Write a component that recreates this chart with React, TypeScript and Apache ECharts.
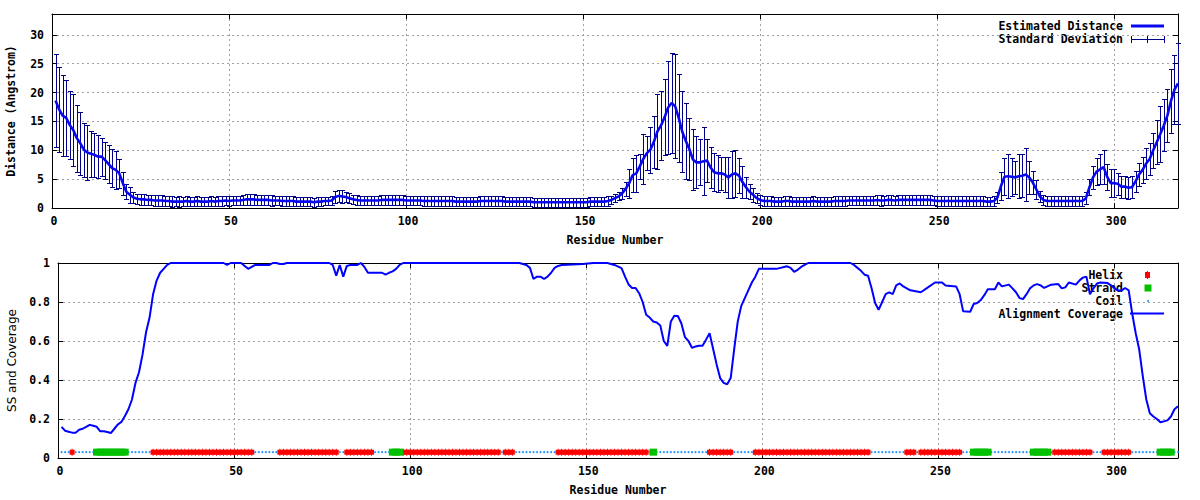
import React, { useEffect, useRef } from "react";
import * as echarts from "echarts";

// ---------- data ----------
// Estimated distance (Angstrom) per residue 1..318
const meanDistance: number[] = [
  18.6, 17.1, 16.0, 15.6, 14.4, 13.5, 12.1, 11.2, 10.1, 9.6,
  9.4, 9.2, 8.9, 8.9, 8.3, 7.6, 6.9, 6.6, 6.0, 4.3,
  2.8, 2.3, 1.8, 1.6, 1.5, 1.5, 1.4, 1.4, 1.3, 1.3,
  1.3, 1.2, 1.2, 1.1, 1.1, 1.1, 1.1, 1.2, 1.1, 1.1,
  1.2, 1.1, 1.1, 1.1, 1.2, 1.1, 1.2, 1.2, 1.3, 1.2,
  1.3, 1.3, 1.3, 1.4, 1.5, 1.5, 1.5, 1.4, 1.4, 1.4,
  1.4, 1.3, 1.3, 1.3, 1.2, 1.2, 1.2, 1.2, 1.1, 1.1,
  1.1, 1.1, 1.1, 1.0, 1.1, 1.1, 1.2, 1.2, 1.3, 1.9,
  2.1, 2.0, 1.9, 1.7, 1.5, 1.4, 1.3, 1.3, 1.3, 1.3,
  1.3, 1.3, 1.4, 1.4, 1.4, 1.4, 1.4, 1.4, 1.4, 1.3,
  1.3, 1.3, 1.3, 1.3, 1.2, 1.2, 1.2, 1.2, 1.2, 1.2,
  1.2, 1.2, 1.2, 1.1, 1.1, 1.1, 1.1, 1.1, 1.1, 1.1,
  1.2, 1.2, 1.2, 1.2, 1.2, 1.2, 1.2, 1.1, 1.1, 1.1,
  1.1, 1.1, 1.1, 1.1, 1.1, 1.0, 1.0, 1.0, 1.0, 1.0,
  1.0, 1.0, 1.0, 1.0, 1.0, 1.0, 1.0, 1.0, 1.0, 1.0,
  1.0, 1.1, 1.1, 1.1, 1.1, 1.1, 1.2, 1.4, 1.7, 2.0,
  2.5, 3.3, 4.3, 5.7, 6.0, 7.2, 8.5, 9.5, 10.1, 11.5,
  13.3, 14.3, 15.7, 17.4, 18.2, 17.6, 15.6, 13.2, 11.6, 10.2,
  8.4, 7.9, 7.9, 8.1, 8.2, 7.0, 6.2, 6.0, 6.0, 5.8,
  5.3, 5.8, 6.0, 5.6, 4.5, 3.6, 2.8, 2.3, 1.7, 1.4,
  1.2, 1.2, 1.2, 1.1, 1.1, 1.1, 1.2, 1.2, 1.1, 1.1,
  1.1, 1.1, 1.1, 1.1, 1.2, 1.1, 1.1, 1.1, 1.1, 1.1,
  1.2, 1.2, 1.2, 1.2, 1.3, 1.3, 1.3, 1.3, 1.3, 1.3,
  1.3, 1.3, 1.4, 1.3, 1.3, 1.4, 1.4, 1.3, 1.4, 1.4,
  1.4, 1.4, 1.4, 1.4, 1.4, 1.4, 1.4, 1.4, 1.3, 1.2,
  1.2, 1.2, 1.2, 1.2, 1.2, 1.2, 1.2, 1.2, 1.2, 1.2,
  1.2, 1.2, 1.2, 1.1, 1.1, 1.2, 1.8, 3.8, 5.4, 5.5,
  5.4, 5.3, 5.5, 5.6, 5.8, 5.3, 4.4, 3.2, 2.0, 1.4,
  1.2, 1.2, 1.2, 1.2, 1.2, 1.2, 1.2, 1.2, 1.2, 1.2,
  1.2, 1.7, 3.6, 5.3, 6.3, 6.7, 7.1, 5.4, 4.3, 4.3,
  4.2, 3.7, 3.7, 3.5, 3.6, 4.6, 5.8, 6.6, 7.7, 8.5,
  10.0, 11.4, 12.8, 14.3, 16.0, 18.5, 20.5, 21.6,
];

// Standard deviation per residue 1..318
const stdDeviation: number[] = [
  8.0, 7.4, 7.0, 6.6, 5.9, 6.2, 5.8, 5.5, 4.7, 4.8,
  4.0, 3.8, 3.7, 3.3, 3.2, 3.3, 3.3, 3.3, 2.5, 2.0,
  1.3, 1.4, 1.0, 0.9, 1.0, 1.0, 0.9, 0.9, 1.0, 0.9,
  0.9, 0.9, 0.9, 0.9, 0.8, 0.9, 0.8, 0.8, 0.8, 0.8,
  0.8, 0.8, 0.8, 0.8, 0.8, 0.8, 0.8, 0.9, 0.8, 0.8,
  0.8, 0.8, 0.8, 0.8, 0.9, 0.9, 0.9, 0.8, 0.8, 0.8,
  0.8, 0.9, 0.8, 0.8, 0.8, 0.8, 0.8, 0.8, 0.8, 0.8,
  0.8, 0.8, 0.8, 0.8, 0.8, 0.8, 0.7, 0.7, 0.7, 1.1,
  1.1, 1.1, 0.9, 0.9, 0.8, 0.8, 0.8, 0.8, 0.8, 0.8,
  0.8, 0.8, 0.8, 0.8, 0.8, 0.8, 0.9, 0.9, 0.9, 0.8,
  0.8, 0.8, 0.8, 0.8, 0.8, 0.8, 0.8, 0.8, 0.8, 0.8,
  0.8, 0.8, 0.8, 0.8, 0.8, 0.8, 0.8, 0.8, 0.8, 0.8,
  0.8, 0.8, 0.8, 0.8, 0.8, 0.8, 0.8, 0.8, 0.8, 0.8,
  0.8, 0.8, 0.8, 0.8, 0.8, 0.8, 0.8, 0.8, 0.8, 0.8,
  0.8, 0.8, 0.8, 0.8, 0.8, 0.8, 0.8, 0.8, 0.8, 0.8,
  0.8, 0.8, 0.8, 0.8, 0.8, 0.8, 0.8, 0.7, 0.7, 0.7,
  0.9, 1.2, 2.5, 2.9, 3.2, 2.2, 4.4, 3.0, 4.0, 4.5,
  6.5, 6.0, 6.6, 8.0, 8.6, 9.0, 7.6, 7.0, 6.6, 5.4,
  5.3, 4.5, 4.0, 5.9, 3.7, 3.5, 3.3, 3.2, 2.9, 3.1,
  3.6, 4.0, 4.1, 3.0, 2.7, 1.8, 1.3, 1.2, 0.9, 0.8,
  0.8, 0.8, 0.8, 0.8, 0.8, 0.8, 0.8, 0.8, 0.8, 0.8,
  0.8, 0.8, 0.8, 0.8, 0.8, 0.8, 0.8, 0.8, 0.8, 0.8,
  0.8, 0.8, 0.8, 0.8, 0.8, 0.8, 0.8, 0.8, 0.8, 0.8,
  0.8, 0.8, 0.8, 0.9, 0.8, 0.8, 0.8, 0.8, 0.8, 0.8,
  0.8, 0.8, 0.8, 0.8, 0.8, 0.8, 0.8, 0.8, 0.8, 0.8,
  0.8, 0.8, 0.8, 0.8, 0.8, 0.8, 0.8, 0.8, 0.8, 0.8,
  0.8, 0.8, 0.8, 0.8, 0.8, 0.8, 1.0, 2.5, 3.2, 3.8,
  3.3, 2.9, 3.8, 3.7, 4.6, 2.9, 2.0, 1.6, 1.0, 0.9,
  0.9, 0.9, 0.9, 0.9, 0.9, 0.9, 0.9, 0.9, 0.9, 0.9,
  0.9, 1.0, 1.4, 2.0, 2.3, 2.6, 2.9, 2.3, 2.4, 2.4,
  1.9, 1.9, 1.9, 1.9, 1.9, 1.8, 2.0, 2.3, 2.7, 2.8,
  3.0, 3.8, 4.8, 4.5, 4.6, 5.5, 6.0, 7.0,
];

// Alignment coverage readings [residue, coverage]
const alignmentCoverage: [number, number][] = [
  [1, 0.16], [2, 0.14], [3, 0.135], [4, 0.13], [5, 0.13], [6, 0.145], [7, 0.15], [8, 0.16],
  [9, 0.17], [10, 0.165], [11, 0.16], [12, 0.137], [13, 0.137], [14, 0.133], [15, 0.128],
  [16, 0.15], [17, 0.172], [18, 0.185], [19, 0.215], [20, 0.25], [21, 0.3], [22, 0.385],
  [23, 0.44], [24, 0.53], [25, 0.645], [26, 0.72], [27, 0.84], [28, 0.91], [29, 0.95],
  [30, 0.97], [31, 0.99], [32, 1.0], [47, 1.0], [48, 0.99], [49, 1.0], [52, 1.0], [53, 0.985],
  [54, 0.97], [55, 0.98], [56, 0.99], [60, 0.99], [61, 1.0], [62, 1.0], [63, 0.995], [64, 0.995],
  [65, 1.0], [77, 1.0], [78, 0.99], [79, 0.935], [80, 0.99], [81, 0.93], [82, 0.985], [83, 0.99],
  [85, 0.99], [86, 1.0], [87, 0.98], [88, 0.95], [92, 0.95], [93, 0.94], [94, 0.95], [95, 0.957],
  [96, 0.97], [97, 0.99], [98, 1.0], [131, 1.0], [133, 0.99], [134, 0.975], [135, 0.918],
  [136, 0.93], [137, 0.93], [138, 0.918], [139, 0.93], [140, 0.95], [141, 0.975], [142, 0.985],
  [143, 0.99], [149, 0.995], [152, 1.0], [156, 1.0], [158, 0.99], [160, 0.974], [161, 0.93],
  [162, 0.89], [163, 0.872], [164, 0.872], [165, 0.845], [166, 0.8], [167, 0.735], [168, 0.72],
  [169, 0.7], [170, 0.695], [171, 0.68], [172, 0.6], [173, 0.575], [174, 0.7], [175, 0.73],
  [176, 0.728], [177, 0.69], [178, 0.62], [179, 0.6], [180, 0.565], [181, 0.572], [182, 0.576],
  [183, 0.576], [184, 0.607], [185, 0.64], [186, 0.56], [187, 0.48], [188, 0.41], [189, 0.385],
  [190, 0.378], [191, 0.41], [192, 0.56], [193, 0.7], [194, 0.78], [195, 0.82], [196, 0.86],
  [197, 0.9], [198, 0.93], [199, 0.97], [204, 0.97], [207, 0.983], [208, 0.975], [209, 0.955],
  [210, 0.965], [211, 0.98], [212, 0.99], [213, 1.0], [225, 1.0], [226, 0.99], [227, 0.975],
  [228, 0.96], [229, 0.94], [230, 0.935], [231, 0.87], [232, 0.795], [233, 0.76], [234, 0.8],
  [235, 0.84], [236, 0.85], [237, 0.84], [238, 0.885], [239, 0.895], [240, 0.88], [242, 0.86],
  [245, 0.85], [247, 0.875], [249, 0.9], [251, 0.9], [252, 0.885], [255, 0.88], [256, 0.84],
  [257, 0.752], [259, 0.75], [260, 0.79], [261, 0.795], [262, 0.81], [263, 0.835], [264, 0.865],
  [266, 0.865], [267, 0.9], [268, 0.88], [270, 0.889], [271, 0.87], [272, 0.85], [273, 0.82],
  [274, 0.815], [275, 0.84], [276, 0.87], [277, 0.885], [278, 0.892], [279, 0.885], [280, 0.872],
  [282, 0.889], [284, 0.892], [285, 0.87], [286, 0.875], [287, 0.9], [289, 0.889], [290, 0.91],
  [291, 0.925], [292, 0.93], [293, 0.84], [294, 0.87], [295, 0.895], [296, 0.9], [298, 0.897],
  [299, 0.885], [300, 0.87], [301, 0.858], [302, 0.86], [303, 0.872], [304, 0.86], [305, 0.74],
  [306, 0.64], [307, 0.555], [308, 0.42], [309, 0.3], [310, 0.23], [311, 0.213], [312, 0.2],
  [313, 0.183], [314, 0.188], [315, 0.193], [316, 0.213], [317, 0.25], [318, 0.265],
];

// Secondary structure ranges (inclusive residue numbers)
const helixRanges: [number, number][] = [
  [4, 4], [27, 55], [63, 79], [82, 89], [98, 125], [127, 129], [142, 167],
  [185, 191], [198, 230], [241, 243], [245, 256], [283, 293], [297, 304],
];
const strandRanges: [number, number][] = [
  [11, 19], [95, 97], [169, 169], [260, 264], [277, 281], [313, 316],
];
const residueCount = 318;
const ssLevel = 0.03;

const xTicks = { min: 0, max: 318, interval: 50 };
const yTopTicks = { min: 0, max: 33.6, interval: 5 };
const yBottomTicks = { min: 0, max: 1, interval: 0.2 };

// ---------- build ----------
const inRanges = (r: number, ranges: [number, number][]) =>
  ranges.some(([a, b]) => r >= a && r <= b);

const residues = Array.from({ length: residueCount }, (_, i) => i + 1);
const helixData = residues.filter((r) => inRanges(r, helixRanges)).map((r) => [r, ssLevel]);
const strandData = residues.filter((r) => inRanges(r, strandRanges)).map((r) => [r, ssLevel]);
const coilData = residues
  .filter((r) => !inRanges(r, helixRanges) && !inRanges(r, strandRanges))
  .map((r) => [r, ssLevel]);
const distData = residues.map((r, i) => [r, meanDistance[i]]);
const errData = residues.map((r, i) => [r, meanDistance[i], stdDeviation[i]]);

const mono = "'DejaVu Sans Mono', 'Liberation Mono', monospace";
const sans = "'DejaVu Sans', 'Liberation Sans', sans-serif";
const barColor = "#000088";
const meanColor = "#0808f0";
const covColor = "#0000ff";
const helixColor = "#ff0000";
const strandColor = "#00c000";
const coilColor = "#1e90ff";

const labelFont = { fontFamily: mono, fontWeight: "bold" as const, fontSize: 11.5, color: "#000" };
const gridLine = { show: true, showMinLine: false, showMaxLine: false, lineStyle: { color: "#a0a0a0", type: [2, 3], width: 1 } };
const lineBlack = { show: true, onZero: false, lineStyle: { color: "#000", width: 1 } };
const tickIn = { show: true, inside: true, length: 5, lineStyle: { color: "#000", width: 1 } };

function keyFont() {
  return {
    font: `bold 11.5px ${mono}`,
    fill: "#000",
    align: "right",
    verticalAlign: "middle",
  };
}

function xAxisPair(gi: number) {
  return [
    {
      gridIndex: gi, type: "value", ...xTicks, position: "bottom",
      name: "Residue Number", nameLocation: "middle", nameGap: 26,
      nameTextStyle: labelFont,
      axisLine: lineBlack, axisTick: tickIn,
      axisLabel: { ...labelFont, margin: 7, showMaxLabel: false, padding: [0, 0, 0, 4] },
      splitLine: gridLine,
    },
    {
      gridIndex: gi, type: "value", ...xTicks, position: "top",
      axisLine: lineBlack, axisTick: tickIn, axisLabel: { show: false }, splitLine: { show: false },
    },
  ];
}

function yAxisPair(gi: number, ticks: any, name: string, nameStyle: any, gap: number, showMax: boolean) {
  return [
    {
      gridIndex: gi, type: "value", ...ticks, position: "left",
      name, nameLocation: "middle", nameGap: gap, nameTextStyle: nameStyle,
      axisLine: lineBlack, axisTick: tickIn,
      axisLabel: { ...labelFont, margin: 8, showMaxLabel: showMax },
      splitLine: gridLine,
    },
    {
      gridIndex: gi, type: "value", ...ticks, position: "right",
      axisLine: lineBlack, axisTick: tickIn, axisLabel: { show: false }, splitLine: { show: false },
    },
  ];
}

const option: any = {
  animation: false,
  backgroundColor: "#fff",
  grid: [
    { left: 52, top: 14, width: 1126, height: 194, containLabel: false, outerBoundsMode: "none" },
    { left: 58, top: 263, width: 1120, height: 195, containLabel: false, outerBoundsMode: "none" },
  ],
  xAxis: [...xAxisPair(0), ...xAxisPair(1)],
  yAxis: [
    ...yAxisPair(0, yTopTicks, "Distance (Angstrom)", labelFont, 35, false),
    ...yAxisPair(1, yBottomTicks, "SS and Coverage", { fontFamily: sans, fontSize: 12, color: "#000" }, 40, true),
  ],
  series: [
    {
      name: "Standard Deviation",
      type: "custom",
      xAxisIndex: 0, yAxisIndex: 0,
      encode: { x: 0, y: 1 },
      data: errData,
      silent: true,
      renderItem: (params: any, api: any) => {
        const r = api.value(0);
        const m = api.value(1);
        const s = api.value(2);
        const lo = Math.max(0, m - s);
        const top = api.coord([r, m + s]);
        const bot = api.coord([r, lo]);
        const x = Math.round(top[0]) + 0.5;
        const yt = Math.round(top[1]) + 0.5;
        const yb = Math.round(bot[1]) + 0.5;
        const w = 2.5;
        const st = { stroke: barColor, lineWidth: 1, fill: null };
        const children: any[] = [
          { type: "line", shape: { x1: x, y1: yt, x2: x, y2: yb }, style: st },
          { type: "line", shape: { x1: x - w, y1: yt, x2: x + w, y2: yt }, style: st },
        ];
        if (m - s > 0) {
          children.push({ type: "line", shape: { x1: x - w, y1: yb, x2: x + w, y2: yb }, style: st });
        }
        return { type: "group", children };
      },
      z: 2,
    },
    {
      name: "Estimated Distance",
      type: "line",
      xAxisIndex: 0, yAxisIndex: 0,
      data: distData,
      symbol: "none",
      lineStyle: { color: meanColor, width: 2.6 },
      silent: true,
      z: 3,
    },
    {
      name: "Coil",
      type: "scatter",
      xAxisIndex: 2, yAxisIndex: 2,
      data: coilData,
      symbol: "circle",
      symbolSize: 2,
      itemStyle: { color: coilColor, opacity: 1 },
      silent: true,
    },
    {
      name: "Helix",
      type: "scatter",
      xAxisIndex: 2, yAxisIndex: 2,
      data: helixData,
      symbol: "path://M0,1H2V0H3V1H5V6H3V7H2V6H0Z",
      symbolSize: [5, 7],
      itemStyle: { color: helixColor, opacity: 1 },
      silent: true,
    },
    {
      name: "Strand",
      type: "scatter",
      xAxisIndex: 2, yAxisIndex: 2,
      data: strandData,
      symbol: "rect",
      symbolSize: [7.5, 7],
      itemStyle: { color: strandColor, borderWidth: 0, opacity: 1 },
      silent: true,
    },
    {
      name: "Alignment Coverage",
      type: "line",
      xAxisIndex: 2, yAxisIndex: 2,
      data: alignmentCoverage,
      symbol: "none",
      lineStyle: { color: covColor, width: 2 },
      silent: true,
      z: 4,
    },
  ],
  graphic: [
    // top key
    { type: "text", x: 1123, y: 26, style: { text: "Estimated Distance", ...keyFont() } },
    { type: "line", shape: { x1: 1131, y1: 26, x2: 1164, y2: 26 }, style: { stroke: meanColor, lineWidth: 3 } },
    { type: "text", x: 1123, y: 39, style: { text: "Standard Deviation", ...keyFont() } },
    { type: "line", shape: { x1: 1131, y1: 39.5, x2: 1164, y2: 39.5 }, style: { stroke: barColor, lineWidth: 1 } },
    { type: "line", shape: { x1: 1131.5, y1: 36, x2: 1131.5, y2: 43 }, style: { stroke: barColor, lineWidth: 1 } },
    { type: "line", shape: { x1: 1147.5, y1: 36, x2: 1147.5, y2: 43 }, style: { stroke: barColor, lineWidth: 1 } },
    { type: "line", shape: { x1: 1164.5, y1: 36, x2: 1164.5, y2: 43 }, style: { stroke: barColor, lineWidth: 1 } },
    // bottom key
    { type: "text", x: 1123, y: 275, style: { text: "Helix", ...keyFont() } },
    { type: "rect", shape: { x: 1145, y: 272, width: 5, height: 6 }, style: { fill: helixColor } },
    { type: "rect", shape: { x: 1147, y: 271, width: 1, height: 8 }, style: { fill: helixColor } },
    { type: "text", x: 1123, y: 288, style: { text: "Strand", ...keyFont() } },
    { type: "rect", shape: { x: 1144.5, y: 284.5, width: 7, height: 7 }, style: { fill: strandColor } },
    { type: "text", x: 1123, y: 301, style: { text: "Coil", ...keyFont() } },
    { type: "circle", shape: { cx: 1148, cy: 301, r: 1 }, style: { fill: coilColor } },
    { type: "text", x: 1123, y: 313.5, style: { text: "Alignment Coverage", ...keyFont() } },
    { type: "line", shape: { x1: 1130, y1: 313.5, x2: 1164, y2: 313.5 }, style: { stroke: covColor, lineWidth: 2 } },
  ],
};

export default function App() {
  const ref = useRef<HTMLDivElement>(null);
  useEffect(() => {
    if (!ref.current) return;
    const chart = echarts.init(ref.current, null, { renderer: "svg" });
    chart.setOption(option);
    return () => chart.dispose();
  }, []);
  return (
    <div
      ref={ref}
      style={{ position: "fixed", left: 0, top: 0, width: 1200, height: 500, background: "#fff" }}
    />
  );
}
